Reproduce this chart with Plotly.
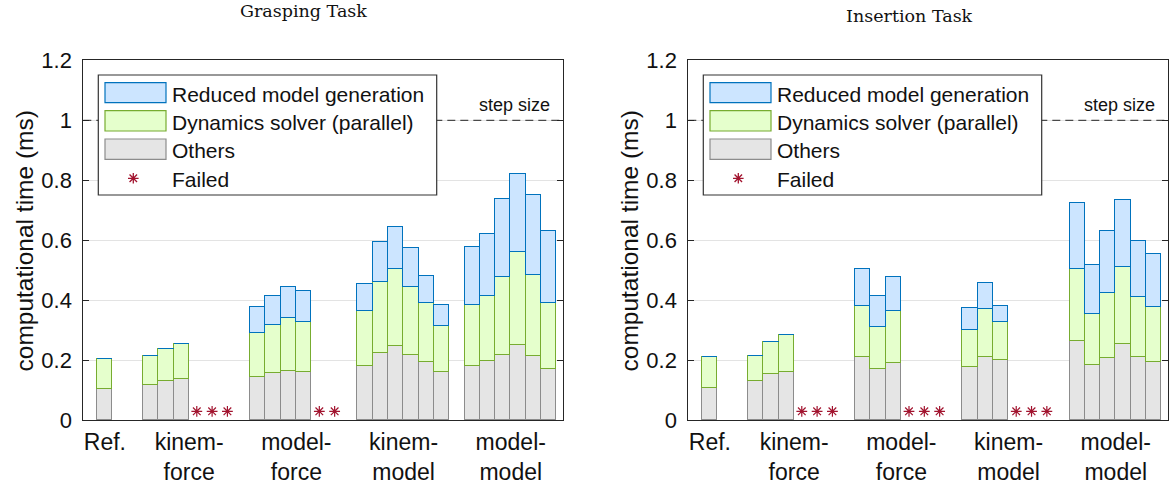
import plotly.graph_objects as go

W, H = 1171, 492

# ---------------- data ----------------
categories = ["Ref.", "kinem-<br>force", "model-<br>force", "kinem-<br>model", "model-<br>model"]
series_names = ["Reduced model generation", "Dynamics solver (parallel)", "Others", "Failed"]
titles = ["Grasping Task", "Insertion Task"]
y_ticks = [0, 0.2, 0.4, 0.6, 0.8, 1, 1.2]
y_ticktext = ["0", "0.2", "0.4", "0.6", "0.8", "1", "1.2"]
step_size = 1.0

# slot order: Ref | kinem-force x6 | model-force x6 | kinem-model x6 | model-model x6   (None = failed)
grasp_others = [0.104,
                0.117, 0.130, 0.137, None, None, None,
                0.142, 0.157, 0.162, 0.160, None, None,
                0.180, 0.224, 0.248, 0.217, 0.195, 0.161,
                0.180, 0.198, 0.218, 0.250, 0.212, 0.170]
grasp_dynamics = [0.099,
                  0.098, 0.107, 0.118, None, None, None,
                  0.148, 0.160, 0.178, 0.168, None, None,
                  0.183, 0.236, 0.255, 0.226, 0.195, 0.153,
                  0.204, 0.215, 0.259, 0.310, 0.271, 0.221]
grasp_reduced = [0,
                 0, 0, 0, None, None, None,
                 0.087, 0.096, 0.105, 0.103, None, None,
                 0.090, 0.133, 0.140, 0.129, 0.090, 0.068,
                 0.193, 0.208, 0.260, 0.260, 0.266, 0.238]

insert_others = [0.108,
                 0.130, 0.154, 0.159, None, None, None,
                 0.209, 0.169, 0.189, None, None, None,
                 0.177, 0.211, 0.200, None, None, None,
                 0.264, 0.184, 0.208, 0.253, 0.209, 0.193]
insert_dynamics = [0.102,
                   0.085, 0.105, 0.123, None, None, None,
                   0.171, 0.140, 0.176, None, None, None,
                   0.124, 0.160, 0.128, None, None, None,
                   0.241, 0.168, 0.217, 0.257, 0.202, 0.184]
insert_reduced = [0,
                  0, 0, 0, None, None, None,
                  0.123, 0.103, 0.112, None, None, None,
                  0.072, 0.085, 0.052, None, None, None,
                  0.218, 0.165, 0.206, 0.222, 0.186, 0.175]

# ---------------- layout helpers ----------------
group_sizes = [1, 6, 6, 6, 6]
group_starts = [1, 4, 11, 18, 25]
positions = []
for s, n in zip(group_starts, group_sizes):
    positions += [s + i for i in range(n)]
cat_centers = [s + (n - 1) / 2 for s, n in zip(group_starts, group_sizes)]

C_BLUE_F, C_BLUE_E = "#CCE5FF", "#0072BD"
C_GREEN_F, C_GREEN_E = "#E5FFCC", "#77AC30"
C_GREY_F, C_GREY_E = "#E5E5E5", "#8C8C8C"
C_STAR = "#A2142F"
AX = "#262626"
SANS = "Liberation Sans, Arial, sans-serif"
SERIF = "DejaVu Serif, serif"

x_range = [-0.41, 30.91]
plot_left_px = [83.3, 688.3]
plot_w_px = 479.7
y_top_px, y_bot_px = 60.3, 420.3

def px(x):
    return x / W

def py(y):
    return 1 - y / H

fig = go.Figure()

datasets = [(grasp_others, grasp_dynamics, grasp_reduced),
            (insert_others, insert_dynamics, insert_reduced)]

for k, (oth, dyn, red) in enumerate(datasets):
    xa = "x" if k == 0 else "x2"
    ya = "y" if k == 0 else "y2"
    for vals, fc, ec, nm in [(oth, C_GREY_F, C_GREY_E, series_names[2]),
                             (dyn, C_GREEN_F, C_GREEN_E, series_names[1]),
                             (red, C_BLUE_F, C_BLUE_E, series_names[0])]:
        fig.add_trace(go.Bar(x=positions, y=vals, width=1, name=nm,
                             marker=dict(color=fc, line=dict(color=ec, width=1.2)),
                             xaxis=xa, yaxis=ya, showlegend=False))
    fx = [p for p, v in zip(positions, oth) if v is None]
    fig.add_trace(go.Scatter(x=fx, y=[0.03] * len(fx), mode="markers", name=series_names[3],
                             marker=dict(symbol="asterisk-open", size=9, color=C_STAR,
                                         line=dict(color=C_STAR, width=1.2)),
                             xaxis=xa, yaxis=ya, showlegend=False))

shapes = []
annotations = []
for k in range(2):
    dx = plot_left_px[k] - plot_left_px[0]
    xr = "x domain" if k == 0 else "x2 domain"
    yr = "y" if k == 0 else "y2"
    # step size line
    shapes.append(dict(type="line", xref=xr, yref=yr, x0=0, x1=1, y0=step_size, y1=step_size,
                       line=dict(color="#222222", width=1, dash="8px,5px"), layer="above"))
    annotations.append(dict(text="step size", xref="paper", yref="paper",
                            x=px(551.7 + dx), y=py(105.5), xanchor="right", yanchor="middle",
                            showarrow=False, font=dict(family=SANS, size=18, color="#111111")))
    # legend box
    shapes.append(dict(type="rect", xref="paper", yref="paper",
                       x0=px(98.3 + dx), x1=px(436.7 + dx), y0=py(195), y1=py(75),
                       fillcolor="white", line=dict(color="#333333", width=1.2), layer="above"))
    sw = [(82.7, 102.7, C_BLUE_F, C_BLUE_E), (110.7, 131.0, C_GREEN_F, C_GREEN_E),
          (139.0, 159.3, C_GREY_F, C_GREY_E)]
    for (t, b, fc, ec) in sw:
        shapes.append(dict(type="rect", xref="paper", yref="paper",
                           x0=px(105 + dx), x1=px(166 + dx), y0=py(b), y1=py(t),
                           fillcolor=fc, line=dict(color=ec, width=1.2), layer="above"))
    cx, cy, r = 133.3 + dx, 178.3, 5.3
    d = r * 0.7071
    segs = [((cx - r, cy), (cx + r, cy)), ((cx, cy - r), (cx, cy + r)),
            ((cx - d, cy - d), (cx + d, cy + d)), ((cx - d, cy + d), (cx + d, cy - d))]
    path = " ".join(f"M {px(a[0]):.5f},{py(a[1]):.5f} L {px(b[0]):.5f},{py(b[1]):.5f}" for a, b in segs)
    shapes.append(dict(type="path", xref="paper", yref="paper", path=path,
                       line=dict(color=C_STAR, width=1.3), layer="above"))
    for i, (nm, yc) in enumerate(zip(series_names, [94.2, 122.5, 150.8, 179.2])):
        annotations.append(dict(text=nm, xref="paper", yref="paper", x=px(170 + dx), y=py(yc),
                                xanchor="left", yanchor="middle", showarrow=False,
                                font=dict(family=SANS, size=21, color="#111111")))
    # y label
    annotations.append(dict(text="computational time (ms)", xref="paper", yref="paper",
                            x=px(24 + dx), y=py(241.5), textangle=-90, xanchor="center",
                            yanchor="middle", showarrow=False,
                            font=dict(family=SANS, size=24.5, color="#111111")))

annotations.append(dict(text=titles[0], xref="paper", yref="paper", x=px(303.3), y=py(11.5),
                        xanchor="center", yanchor="middle", showarrow=False,
                        font=dict(family=SERIF, size=17.5, color="#111111")))
annotations.append(dict(text=titles[1], xref="paper", yref="paper", x=px(909.5), y=py(16.3),
                        xanchor="center", yanchor="middle", showarrow=False,
                        font=dict(family=SERIF, size=17.5, color="#111111")))

xcommon = dict(range=x_range, tickvals=cat_centers, ticktext=categories, showgrid=False,
               zeroline=False, showline=True, linecolor=AX, linewidth=1, mirror=True,
               ticks="", ticklabelstandoff=1, automargin=False,
               tickfont=dict(family=SANS, size=23, color="#111111"), fixedrange=True)
ycommon = dict(range=[0, 1.2], tickvals=y_ticks, ticktext=y_ticktext, showgrid=True,
               gridcolor="#E3E3E3", gridwidth=1, zeroline=False, showline=True, linecolor=AX,
               linewidth=1, mirror="ticks", ticks="inside", ticklen=6, tickcolor=AX,
               ticklabelstandoff=6, automargin=False,
               tickfont=dict(family=SANS, size=22, color="#111111"),
               domain=[py(y_bot_px), py(y_top_px)], fixedrange=True)

fig.update_layout(
    width=W, height=H, margin=dict(l=0, r=0, t=0, b=0, autoexpand=False),
    paper_bgcolor="white", plot_bgcolor="white",
    barmode="stack", bargap=0, showlegend=False, hovermode=False,
    xaxis=dict(domain=[px(plot_left_px[0]), px(plot_left_px[0] + plot_w_px)], anchor="y", **xcommon),
    xaxis2=dict(domain=[px(plot_left_px[1]), px(plot_left_px[1] + plot_w_px)], anchor="y2", **xcommon),
    yaxis=dict(anchor="x", **ycommon),
    yaxis2=dict(anchor="x2", **ycommon),
    shapes=shapes, annotations=annotations,
)

# remove the default 8px page margin so the figure fills the window exactly
fig.write_html("out.html", config={"displayModeBar": False},
               post_script="document.body.style.margin='0px';")
